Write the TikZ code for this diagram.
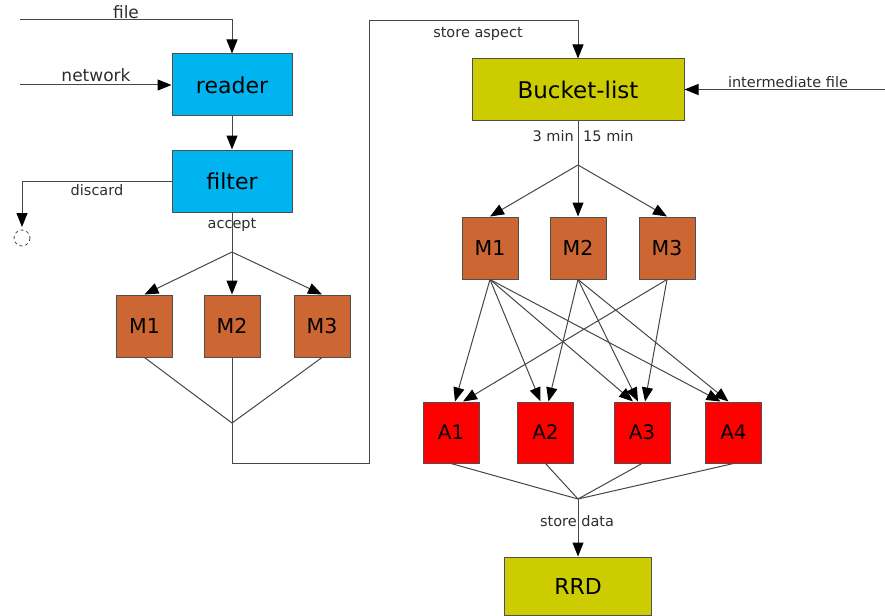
\documentclass[tikz,border=0pt]{standalone}
\usepackage{fontspec}
\setmainfont{DejaVu Sans}
\usetikzlibrary{arrows.meta,calc}
\definecolor{cyanbox}{RGB}{0,180,240}
\definecolor{olivebox}{RGB}{204,204,0}
\definecolor{brownbox}{RGB}{204,102,51}
\definecolor{redbox}{RGB}{255,0,0}
\definecolor{boxborder}{RGB}{80,80,80}
\definecolor{linegray}{RGB}{70,70,70}
\definecolor{lblgray}{RGB}{45,45,45}
\tikzset{
  box/.style={draw=boxborder, line width=1pt, inner sep=0pt, text=black},
  bigbox/.style={box, minimum width=120pt, minimum height=62pt, font=\fontsize{22}{25}\selectfont},
  mbox/.style={box, fill=brownbox, minimum width=56pt, minimum height=62pt, font=\fontsize{20.5}{23}\selectfont},
  abox/.style={box, fill=redbox, minimum width=56pt, minimum height=61pt, font=\fontsize{20}{23}\selectfont},
  lbl/.style={inner sep=0pt, text=lblgray, font=\fontsize{14.5}{17}\selectfont},
  biglbl/.style={inner sep=0pt, text=lblgray, font=\fontsize{17}{20}\selectfont},
  conn/.style={draw=linegray, line width=1pt},
  arr/.style={conn, -{Triangle[length=14pt,width=11pt,color=black]}}
}
\begin{document}
\begin{tikzpicture}[x=1pt,y=-1pt]
\useasboundingbox (0,0) rectangle (885,615);
% left column
\node[bigbox, fill=cyanbox] (reader) at (232,85) {reader};
\node[bigbox, fill=cyanbox] (filter) at (232,181) {filter};
\node[mbox] (LM1) at (144.5,326) {M1};
\node[mbox] (LM2) at (232,326) {M2};
\node[mbox] (LM3) at (322,326) {M3};
% right column
\node[box, fill=olivebox, minimum width=212pt, minimum height=61pt, font=\fontsize{23}{26}\selectfont] (bucket) at (578,89.5) {Bucket-list};
\node[mbox] (RM1) at (490,248) {M1};
\node[mbox] (RM2) at (578,248) {M2};
\node[mbox] (RM3) at (667,248) {M3};
\node[abox] (A1) at (451,432.5) {A1};
\node[abox] (A2) at (545.5,432.5) {A2};
\node[abox] (A3) at (642,432.5) {A3};
\node[abox] (A4) at (733.5,432.5) {A4};
\node[box, fill=olivebox, minimum width=147pt, minimum height=58pt, font=\fontsize{22}{25}\selectfont] (rrd) at (578,586) {RRD};
% free ends and junctions
\coordinate (fileS) at (20,20);
\coordinate (netS) at (20,85);
\coordinate (discE) at (22,227);
\coordinate (lsplit) at (232,252);
\coordinate (lmerge) at (232,423);
\coordinate (rsplit) at (578,165);
\coordinate (bmerge) at (578,499);
\coordinate (interS) at (885,89.5);
\draw[conn, dashed, line width=0.8pt] (22,238) circle (8);
% inputs
\draw[arr] (fileS) -| (reader.north);
\draw[arr] (netS) -- (reader.west);
\draw[arr] (reader) -- (filter);
\draw[arr] (filter.west) -| (discE);
\draw[conn] (filter.south) -- (lsplit);
\foreach \m in {LM1,LM2,LM3} \draw[arr] (lsplit) -- (\m.north);
\foreach \m in {LM1,LM2,LM3} \draw[conn] (\m.south) -- (lmerge);
\draw[arr] (lmerge) -- (232,463) -- (369,463) -- (369,20.5) -| (bucket.north);
\draw[arr] (interS) -- (bucket.east);
\draw[conn] (bucket.south) -- (rsplit);
\foreach \m in {RM1,RM2,RM3} \draw[arr] (rsplit) -- (\m.north);
% M -> A
\draw[arr] (RM1.south) -- ($(A1.north)+(4,0)$);
\draw[arr] (RM1.south) -- ($(A2.north)+(-5,0)$);
\draw[arr] (RM1.south) -- ($(A3.north)+(-9,0)$);
\draw[arr] (RM1.south) -- ($(A4.north)+(-13,0)$);
\draw[arr] (RM2.south) -- ($(A2.north)+(3,0)$);
\draw[arr] (RM2.south) -- ($(A3.north)+(-4,0)$);
\draw[arr] (RM2.south) -- ($(A4.north)+(-5,0)$);
\draw[arr] (RM3.south) -- ($(A1.north)+(12,0)$);
\draw[arr] (RM3.south) -- ($(A3.north)+(3,0)$);
\foreach \a in {A1,A2,A3,A4} \draw[conn] (\a.south) -- (bmerge);
\draw[arr] (bmerge) -- (rrd.north);
% labels
\node[biglbl] (lfile) at (126,12) {file};
\node[biglbl] (lnet) at (96,75) {network};
\node[lbl] (ldisc) at (97,190) {discard};
\node[lbl] (lacc) at (232,225) {accept};
\node[lbl] (lstore) at (478,34) {store aspect};
\node[lbl] (linter) at (788,82) {intermediate file};
\node[lbl, anchor=east] (l3) at (574,136) {3 min};
\node[lbl, anchor=west] (l15) at (583,136) {15 min};
\node[lbl] (ldata) at (577,521) {store data};
\end{tikzpicture}
\end{document}
